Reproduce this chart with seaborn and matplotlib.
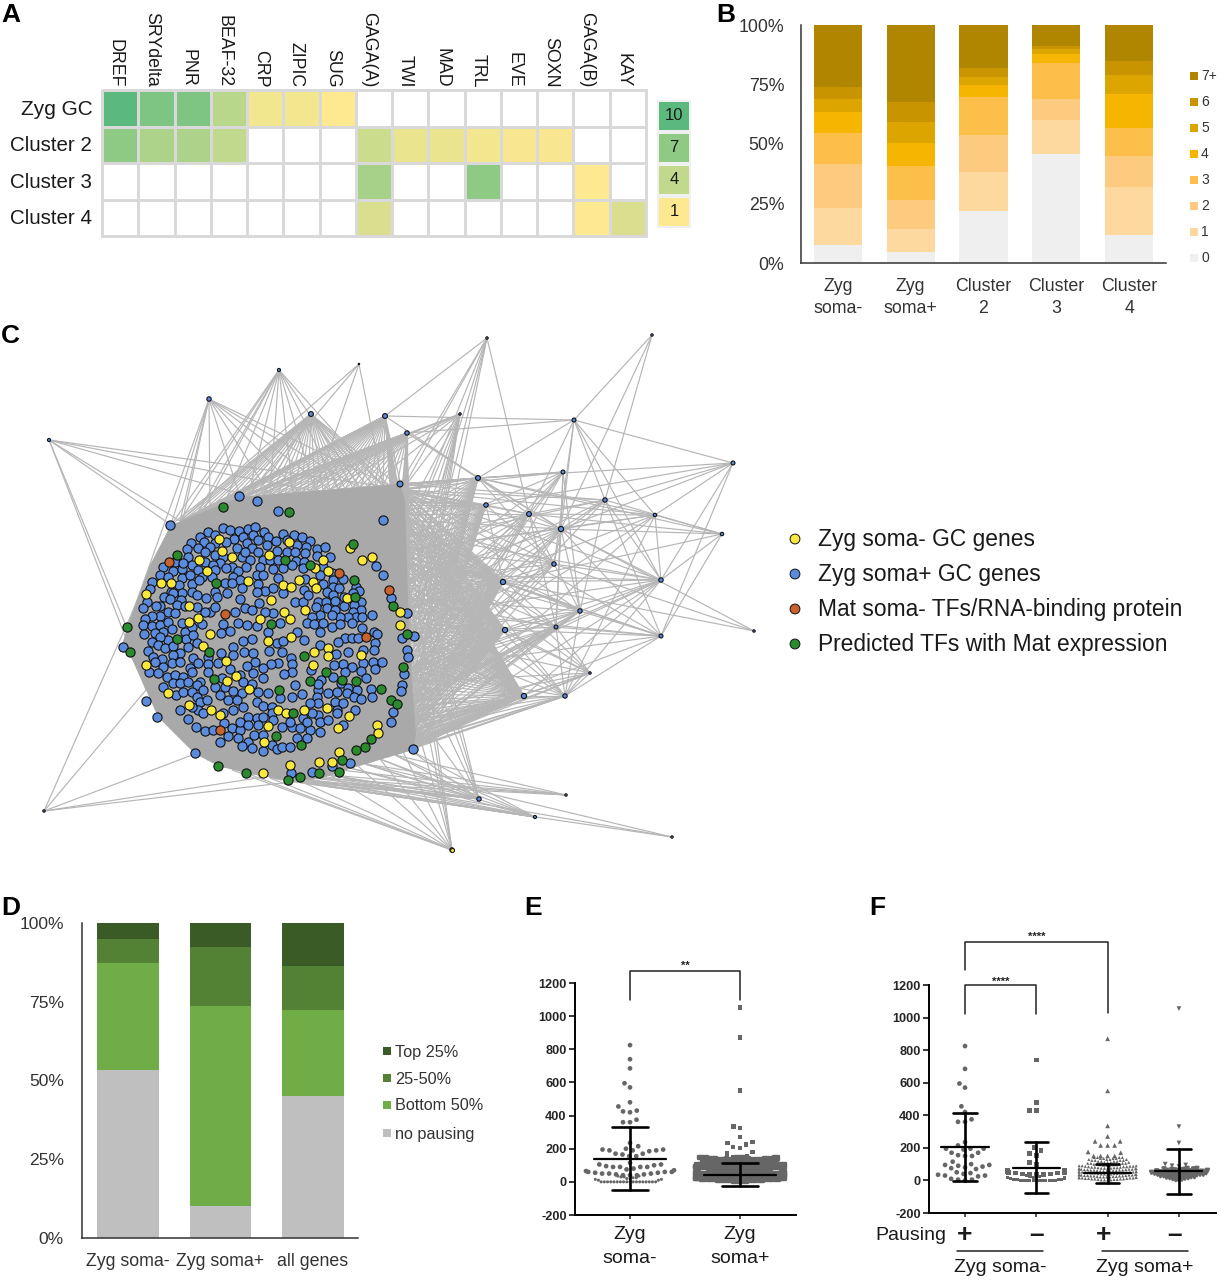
import warnings
import numpy as np
import pandas as pd
import seaborn as sns
import matplotlib.pyplot as plt
import matplotlib.patheffects as pe
from matplotlib.collections import LineCollection
from matplotlib.colors import LinearSegmentedColormap
from matplotlib.patches import Rectangle
from matplotlib.transforms import ScaledTranslation

warnings.filterwarnings("ignore")

W, H = 1221, 1280

# A
tf_names = ["DREF", "SRYdelta", "PNR", "BEAF-32", "CRP", "ZIPIC", "SUG", "GAGA(A)", "TWI", "MAD", "TRL", "EVE", "SOXN", "GAGA(B)", "KAY"]
a_rows = ["Zyg GC", "Cluster 2", "Cluster 3", "Cluster 4"]
a_zyg = [10, 8, 8, 4.5, 1.6, 1.6, 1, 0, 0, 0, 0, 0, 0, 0, 0]
a_c2 = [7, 5.2, 5.2, 4, 0, 0, 0, 3.4, 2, 2, 1.6, 1.3, 1.3, 0, 0]
a_c3 = [0, 0, 0, 0, 0, 0, 0, 5.5, 0, 0, 7, 0, 0, 1, 0]
a_c4 = [0, 0, 0, 0, 0, 0, 0, 2.8, 0, 0, 0, 0, 0, 1, 2.8]
a_key = [10, 7, 4, 1]

# B
b_cats = ["Zyg\nsoma-", "Zyg\nsoma+", "Cluster\n2", "Cluster\n3", "Cluster\n4"]
b_levels = ["0", "1", "2", "3", "4", "5", "6", "7+"]
b_colors = ["#efefef", "#fdd9a0", "#fdcb80", "#fcc04a", "#f6b500", "#dda500", "#c89500", "#b08500"]
b_tops = [
    [7.4, 4.5, 21.7, 45.8, 11.6],
    [23.1, 14.1, 38.1, 59.9, 31.9],
    [41.5, 26.6, 53.9, 68.9, 45.0],
    [54.5, 40.9, 69.9, 83.9, 56.9],
    [63.6, 50.6, 74.9, 88.0, 70.9],
    [68.9, 59.4, 78.0, 90.0, 79.0],
    [74.1, 67.5, 81.9, 91.0, 85.0],
    [100, 100, 100, 100, 100],
]

# D
d_cats = ["Zyg soma-", "Zyg soma+", "all genes"]
d_levels = ["no pausing", "Bottom 50%", "25-50%", "Top 25%"]
d_colors = ["#bfbfbf", "#70ad47", "#548235", "#3a5a26"]
d_tops = [
    [53.2, 10.2, 45.1],
    [87.2, 73.8, 72.4],
    [94.9, 92.5, 86.4],
    [100, 100, 100],
]

# E
e_minus_sparse = [825, 740, 685, 595, 570, 480, 455, 430, 425, 420, 375, 360, 360, 235, 215, 200, 195, 190, 190, 190,
                  195, 185, 170, 170, 165, 155, 155, 115, 105, 105, 100, 95, 90, 90, 90, 90, 80, 75, 70, 65, 60, 60,
                  60, 55, 55, 50, 50, 50, 45, 45, 40, 40, 40]
e_minus_vals = [0, 10, 15, 20, 25, 30, 35]
e_minus_counts = [18, 2, 2, 2, 2, 2, 2]
e_plus_sparse = [1050, 870, 550, 335, 325, 270, 240, 235, 225, 210, 205, 180, 170, 155, 150, 150]
e_plus_vals = [3, 6, 9, 12, 15, 18, 21, 24, 27, 30, 33, 36, 39, 42, 45, 48, 51, 54, 57, 60,
               72, 75, 78, 81, 84, 87, 90, 93, 96, 99, 102, 105, 111, 114, 117, 120, 123, 126, 129, 132, 135, 138, 141, 144, 147]
e_plus_counts = [5, 5, 5, 5, 5, 5, 5, 5, 5, 5, 5, 5, 5, 5, 5, 5, 5, 5, 5, 5,
                 5, 5, 5, 5, 5, 5, 5, 5, 5, 5, 5, 5, 4, 4, 4, 4, 4, 4, 4, 4, 4, 4, 4, 4, 4]
e_means = [140, 43]
e_sds = [190, 70]

# F
f_pos_minus = [825, 685, 595, 570, 455, 420, 375, 360, 360, 235, 215, 195, 195, 195, 190, 170, 170, 155, 150, 150, 115,
               100, 95, 95, 90, 85, 80, 75, 70, 50, 45, 40, 35, 30, 30, 25, 10, 5, 5, 0]
f_neg_sparse = [740, 480, 430, 430, 200, 185, 165, 155, 110, 100, 60, 60, 55, 55, 50, 50, 45, 45, 40, 40, 35, 35, 35]
f_neg_vals = [0, 4, 8, 12, 16, 20, 25, 30]
f_neg_counts = [12, 2, 2, 2, 2, 2, 2, 2]
f_pos_plus_sparse = [870, 550, 335, 270, 240, 240, 215, 215, 215, 175, 170, 150, 150, 150, 150]
f_pos_plus_vals = [3, 6, 9, 12, 15, 18, 21, 24, 27, 30, 33, 36, 39, 42, 45, 48, 51, 54, 57, 60, 63, 66, 69, 72, 75,
                   78, 81, 84, 87, 90, 93, 96, 99, 105, 111, 117, 123, 129, 135, 141]
f_pos_plus_counts = [4, 3, 4, 3, 4, 3, 4, 3, 4, 3, 4, 3, 4, 3, 4, 3, 4, 3, 4, 3, 4, 3, 4, 3, 4,
                     3, 3, 3, 3, 3, 3, 3, 3, 4, 4, 4, 4, 4, 4, 4]
f_neg_plus_sparse = [1055, 330, 230, 100, 95, 90, 85]
f_neg_plus_vals = [2, 5, 8, 11, 14, 17, 20, 23, 26, 29, 32, 35, 38, 41, 44, 47, 50, 53, 56, 59, 62, 65, 68, 71, 74]
f_neg_plus_counts = [1, 1, 1, 1, 1, 2, 2, 2, 2, 2, 2, 3, 3, 3, 3, 3, 3, 3, 3, 3, 2, 2, 2, 2, 2]
f_means = [205, 78, 43, 55]
f_sds = [210, 157, 58, 140]

# C, node positions (crop units, 3 per pixel, crop corner at 100,480)
blue_nodes = [
    (418,48),(470,64),(535,92),(850,120),(211,136),(370,145),(390,150),(418,152),(445,148),(466,142),(325,155),
    (345,165),(492,155),(550,162),(582,165),(607,170),(629,183),(300,170),(402,178),(428,170),(458,165),(475,180),(505,170),
    (527,183),(560,180),(272,190),(312,187),(378,185),(345,190),(295,205),(262,207),(330,200),(440,190),(530,212),(500,195),
    (455,205),(617,200),(590,195),(650,207),(676,200),(410,205),(315,215),(265,232),(345,225),(425,230),(368,230),(435,215),
    (475,215),(560,215),(585,215),(615,220),(650,228),(690,232),(225,245),(275,255),(315,245),(360,250),(338,255),(395,260),
    (490,240),(450,240),(510,240),(535,240),(587,243),(613,245),(480,262),(437,262),(415,272),(190,262),(220,272),(245,268),
    (250,250),(295,270),(345,270),(378,265),(518,268),(548,265),(575,255),(610,265),(668,262),(180,285),(205,292),(247,295),
    (270,285),(305,290),(400,290),(420,300),(335,290),(470,285),(490,285),(535,295),(615,297),(660,285),(695,280),(728,297),
    (698,300),(155,305),(275,312),(237,315),(297,300),(375,310),(475,312),(395,310),(670,312),(700,320),(768,320),(778,332),
    (150,327),(213,335),(245,338),(220,340),(275,335),(345,335),(380,340),(425,325),(495,333),(518,325),(470,335),(550,340),
    (612,330),(680,335),(718,325),(700,345),(760,340),(193,350),(243,360),(290,345),(318,355),(352,352),(420,357),(140,365),
    (210,358),(180,378),(168,378),(585,365),(608,365),(625,345),(655,365),(678,367),(705,362),(733,350),(782,365),(762,375),
    (731,378),(647,380),(680,385),(705,390),(478,370),(435,385),(457,390),(405,397),(128,385),(232,375),(255,378),(205,395),
    (180,408),(155,407),(135,417),(225,400),(290,380),(330,395),(315,395),(345,382),(520,400),(495,395),(783,390),(760,395),
    (768,410),(815,405),(785,412),(745,412),(720,410),(695,405),(660,405),(635,410),(620,428),(643,432),(670,430),(695,440),
    (720,433),(757,430),(785,445),(130,436),(155,437),(180,435),(205,425),(245,430),(215,448),(190,455),(132,463),(165,460),
    (255,455),(275,440),(305,432),(370,432),(415,430),(442,435),(470,438),(541,430),(590,455),(660,455),(613,480),(734,475),
    (715,485),(755,475),(775,475),(823,457),(832,463),(905,475),(942,468),(505,457),(362,458),(390,452),(428,482),(455,478),
    (530,490),(548,483),(258,477),(205,480),(180,470),(155,485),(280,465),(145,512),(175,495),(195,505),(220,498),(240,520),
    (265,500),(290,490),(220,525),(160,530),(400,500),(398,525),(362,520),(432,517),(460,518),(508,513),(547,515),(660,495),
    (708,522),(825,490),(822,510),(790,510),(745,517),(922,510),(923,532),(820,545),(846,545),(790,548),(730,552),(572,535),
    (575,553),(535,550),(514,553),(490,563),(465,547),(325,530),(323,552),(185,537),(165,545),(190,560),(215,550),(240,545),
    (280,535),(295,550),(270,565),(355,550),(390,568),(440,558),(460,580),(488,595),(420,585),(575,575),(552,582),(632,570),
    (702,555),(757,560),(782,572),(735,575),(824,567),(912,583),(662,600),(700,590),(798,595),(148,577),(175,580),(200,590),
    (225,585),(250,590),(275,575),(300,605),(325,575),(365,595),(190,620),(220,610),(240,610),(265,605),(290,615),(345,620),
    (375,622),(430,605),(455,612),(585,615),(653,630),(655,612),(722,610),(745,625),(770,630),(812,628),(815,650),(905,615),
    (903,632),(228,645),(250,635),(275,635),(310,630),(360,645),(398,632),(425,640),(475,635),(505,640),(540,655),(575,650),
    (606,643),(650,650),(685,640),(710,635),(740,640),(762,652),(783,658),(138,663),(240,690),(290,650),(300,665),(320,660),
    (385,660),(410,660),(430,680),(470,665),(490,678),(515,680),(655,670),(630,670),(705,665),(728,670),(765,690),(710,690),
    (880,697),(873,725),(172,711),(265,718),(295,690),(310,700),(275,680),(400,690),(370,700),(445,710),(470,715),(490,710),
    (515,700),(610,715),(655,705),(635,700),(660,725),(685,720),(730,735),(710,700),(288,740),(315,752),(340,750),(373,728),
    (395,745),(420,750),(420,725),(445,735),(475,735),(520,720),(545,740),(575,740),(600,745),(630,750),(620,725),(660,755),
    (360,785),(385,768),(415,775),(445,785),(462,765),(488,765),(455,805),(425,798),(490,813),(515,795),(530,808),(547,800),
    (570,802),(620,775),(590,775),(570,725),(285,820),(750,850),(637,877),(695,858),(68,500),(940,807),(573,878),(828,257),
    (850,285),(873,353),(921,398),
]
yellow_nodes = [
    (358,177),(365,212),(395,231),(298,240),(320,272),(445,304),(508,225),(566,186),(670,241),(645,263),(683,273),(750,203),
    (786,239),(816,231),(183,309),(213,310),(138,343),(268,377),(295,413),(268,425),(512,361),(550,315),(572,321),(597,300),
    (640,305),(648,325),(742,355),(615,390),(552,395),(571,417),(481,416),(331,463),(572,470),(505,482),(309,497),(377,544),
    (409,588),(381,602),(446,628),(138,555),(204,639),(268,676),(333,691),(361,706),(533,690),(558,699),(611,690),(680,684),
    (746,708),(783,525),(642,515),(684,503),(685,528),(640,555),(900,397),(900,435),(832,735),(835,759),(715,743),(505,737),
    (493,787),(717,817),(657,846),(697,845),(571,855),(489,878),
]
green_nodes = [
    (370,80),(566,97),(232,226),(759,191),(555,241),(631,254),(347,309),(763,301),(765,352),(880,378),(514,433),(921,463),
    (82,440),(91,517),(232,478),(327,515),(613,527),(910,560),(679,577),(342,597),(629,604),(727,600),(768,604),(536,630),
    (842,627),(873,660),(890,671),(579,699),(528,767),(602,794),(813,776),(794,802),(768,810),(727,839),(354,858),(438,878),
    (563,900),(601,892),(656,878),(717,876),
]
red_nodes = [(208,246),(717,278),(868,330),(375,401),(797,472),(361,749)]

# outer nodes in picture pixels
outer_x = [487, 652, 385, 460, 574, 407, 733, 478, 400, 563, 605, 486, 655, 529, 561, 722, 554, 661, 503, 580, 556, 505, 661, 754, 590, 524, 565, 49, 209, 279, 311, 359, 44, 479, 535, 566, 672, 452]
outer_y = [338, 335, 416, 414, 420, 433, 463, 478, 484, 472, 500, 505, 515, 514, 529, 534, 564, 580, 582, 611, 627, 630, 636, 631, 673, 696, 696, 440, 399, 370, 414, 364, 811, 799, 817, 795, 837, 850]
outer_size = [3, 3, 12, 3, 8, 10, 8, 12, 18, 8, 10, 10, 6, 12, 14, 6, 10, 10, 14, 10, 8, 14, 8, 3, 3, 14, 10, 5, 10, 5, 12, 1, 3, 10, 5, 3, 3, 10]

outer_edges = [
    (0,8),(0,13),(0,2),(1,14),(1,10),(1,4),(2,4),(2,7),(4,7),(4,5),(4,6),(4,10),(4,13),(4,14),(4,16),(4,17),(4,12),
    (5,7),(5,14),(6,7),(6,10),(6,12),(6,17),(6,22),(6,14),(6,11),(7,13),(7,14),(7,16),(7,12),(7,9),(7,15),
    (9,13),(9,14),(9,19),(9,20),(10,13),(10,14),(10,17),(10,19),(10,22),(10,15),(12,13),(12,14),(12,15),(12,17),(12,26),
    (13,14),(13,16),(13,20),(13,15),(14,15),(14,16),(14,17),(14,19),(14,20),(14,22),(16,23),(16,17),(15,17),(15,22),(15,18),
    (17,18),(17,19),(17,20),(17,26),(17,25),(18,19),(18,22),(19,20),(19,22),(19,26),(19,21),(20,22),(20,26),(20,24),
    (21,22),(21,24),(24,26),(22,26),(25,26),(16,19),(11,16),(11,18),(11,13),(18,23),(14,23),(8,7),(8,9),(8,10),
]

# outline of the solid grey mass, then fan anchors per side (pixels)
blob_x = [400, 240, 171, 150, 127, 122, 130, 146, 158, 194, 218, 246, 290, 320, 345, 413, 416, 412, 408, 405]
blob_y = [484, 497, 525, 565, 628, 645, 655, 690, 717, 753, 766, 773, 781, 779, 770, 750, 735, 680, 600, 500]
right_x = [402, 402, 402, 402, 403, 403, 403, 403, 404, 404, 404, 404, 405, 405, 405, 405, 406, 406, 406, 406, 407, 407,
           407, 407, 408, 408, 408, 408, 409, 409, 409, 409, 410, 410, 410, 410, 411, 411, 411, 411, 412, 412, 412, 412]
right_y = [490, 496, 502, 508, 514, 520, 526, 532, 538, 544, 550, 556, 562, 568, 574, 580, 586, 592, 598, 604, 610, 616,
           622, 628, 634, 640, 646, 652, 658, 664, 670, 676, 682, 688, 694, 700, 706, 712, 718, 724, 730, 736, 742, 748]
top_x = [180, 188, 195, 203, 210, 218, 225, 233, 240, 248, 255, 263, 270, 278, 285, 293, 300, 308, 315, 323, 330, 338, 345, 353, 360, 368, 375, 383, 390, 397]
top_y = [521, 517, 514, 511, 508, 505, 502, 499, 497, 496, 496, 495, 495, 494, 494, 493, 493, 492, 491, 490, 490, 489, 489, 488, 488, 487, 487, 486, 486, 485]
bottom_x = [195, 207, 218, 232, 246, 258, 270, 280, 290, 300, 310, 320, 330, 340, 350, 358, 365, 373, 380, 388, 395, 403, 410]
bottom_y = [754, 760, 766, 770, 773, 776, 778, 780, 781, 781, 780, 778, 775, 771, 768, 766, 764, 761, 759, 757, 755, 752, 750]
left_x = [171, 150, 127, 122, 146, 158]
left_y = [525, 565, 628, 645, 690, 717]

# hub, side, take every n-th anchor
fan_links = [
    (21, "right", 1), (18, "right", 1), (25, "right", 1), (21, "bottom", 2), (25, "bottom", 1), (18, "top", 4),
    (7, "right", 2), (11, "right", 2), (13, "right", 4), (14, "right", 5), (16, "right", 5), (19, "right", 6), (20, "right", 6),
    (26, "right", 6), (24, "right", 8), (9, "right", 8), (10, "right", 9), (12, "right", 10), (17, "right", 7), (22, "right", 10),
    (3, "right", 5), (0, "right", 9), (7, "top", 4), (11, "top", 5),
    (2, "top", 1), (5, "top", 1), (30, "top", 1), (29, "top", 3), (28, "top", 4), (31, "top", 9), (2, "right", 3), (5, "right", 2),
    (8, "right", 2), (3, "top", 5), (28, "left", 2), (30, "left", 2), (29, "left", 3),
    (27, "left", 2), (27, "top", 9), (32, "left", 4), (32, "bottom", 9),
    (33, "bottom", 2), (33, "right", 9), (34, "bottom", 2), (35, "bottom", 4), (36, "bottom", 8), (37, "bottom", 3), (37, "right", 12),
    (25, "top", 9), (19, "bottom", 6), (20, "bottom", 5), (26, "bottom", 4), (24, "bottom", 6),
]

# legend of C
c_legend = ["Zyg soma- GC genes", "Zyg soma+ GC genes", "Mat soma- TFs/RNA-binding protein", "Predicted TFs with Mat expression"]
c_colors = ["#fbe83c", "#5b8bdc", "#c9622c", "#2a8a2e"]

sns.set_style("white")
plt.rcParams["font.family"] = ["Liberation Sans", "DejaVu Sans"]
plt.rcParams["axes.unicode_minus"] = False
TXT = "#1a1a1a"
GREY = "#666666"

fig = plt.figure(figsize=(W / 100, H / 100), dpi=100)


def px_axes(x0, y0, x1, y1, **kw):
    return fig.add_axes([x0 / W, 1 - y1 / H, (x1 - x0) / W, (y1 - y0) / H], **kw)


def stacked(ax, cats, tops, colors, width):
    for top, col in reversed(list(zip(tops, colors))):
        sns.barplot(x=cats, y=top, order=cats, color=col, saturation=1, width=width, linewidth=0, ax=ax)


def shift(lab, dx, dy):
    lab.set_transform(lab.get_transform() + ScaledTranslation(dx / 100, -dy / 100, fig.dpi_scale_trans))


# full figure layer for the network and free text
bg = px_axes(0, 0, W, H)
bg.set_xlim(0, W)
bg.set_ylim(H, 0)
bg.axis("off")

segs = [[(outer_x[a], outer_y[a]), (outer_x[b], outer_y[b])] for a, b in outer_edges]
sides = {"right": (right_x, right_y), "top": (top_x, top_y), "bottom": (bottom_x, bottom_y), "left": (left_x, left_y)}
for hub, side, step in fan_links:
    sx, sy = sides[side]
    for tx, ty in zip(sx[::step], sy[::step]):
        segs.append([(outer_x[hub], outer_y[hub]), (tx, ty)])
bg.add_collection(LineCollection(segs, colors="#b6b6b6", linewidths=0.85, zorder=1))
bg.fill(blob_x, blob_y, color="#a9a9a9", lw=0, zorder=1)

for nodes, col in [(blue_nodes, c_colors[1]), (yellow_nodes, c_colors[0]), (green_nodes, c_colors[3]), (red_nodes, c_colors[2])]:
    arr = np.array(nodes)
    sns.scatterplot(x=100 + arr[:, 0] / 3, y=480 + arr[:, 1] / 3, color=col, s=44, edgecolor="#101010", linewidth=0.8,
                    legend=False, ax=bg, zorder=3)
sns.scatterplot(x=outer_x, y=outer_y, color=c_colors[1], s=outer_size, edgecolor="#101010", linewidth=0.8,
                legend=False, ax=bg, zorder=3)
sns.scatterplot(x=[452], y=[850], color=c_colors[0], s=8, edgecolor="#101010", linewidth=0.7, legend=False, ax=bg, zorder=4)

leg_y = [539, 574, 609, 644]
sns.scatterplot(x=[795] * 4, y=leg_y, hue=c_legend, palette=c_colors, s=50, edgecolor="#101010", linewidth=0.7,
                legend=False, ax=bg, zorder=3)
for name, y in zip(c_legend, leg_y):
    bg.text(818, y + 0.5, name, fontsize=16.4, va="center", ha="left", color=TXT)
bg.set_xlim(0, W)
bg.set_ylim(H, 0)

for name, x, y in [("A", 1, 15), ("B", 716, 15), ("C", 1, 336), ("D", 1, 908), ("E", 524, 908), ("F", 869, 908)]:
    bg.text(x, y, name, fontsize=19, fontweight="bold", va="center", ha="left", color="black")

# A
ax = px_axes(102, 90, 646, 236)
a_table = pd.DataFrame([a_zyg, a_c2, a_c3, a_c4], index=a_rows, columns=tf_names)
tf_cmap = LinearSegmentedColormap.from_list("tf", [(0, "#fee990"), (1 / 3, "#c0d98c"), (2 / 3, "#8fca84"), (1, "#5cb97d")])
tf_cmap.set_under("white")
sns.heatmap(a_table, cmap=tf_cmap, vmin=1, vmax=10, cbar=False, linewidths=1.9, linecolor="#d9d9d9", clip_on=False, ax=ax)
ax.tick_params(length=0, top=True, labeltop=True, bottom=False, labelbottom=False)
ax.tick_params(axis="x", pad=2)
ax.tick_params(axis="y", pad=7)
ax.set_xticklabels(tf_names, rotation=270, ha="center", va="bottom", fontsize=12.8, color=TXT)
ax.set_yticklabels(a_rows, rotation=0, fontsize=14.8, color=TXT)
ax.get_yticklabels()[0].set_fontsize(15)
for lab in ax.get_xticklabels():
    shift(lab, -5, 0)
for lab in ax.get_yticklabels():
    shift(lab, 0, 1)
ax.set_xlabel("")
ax.set_ylabel("")

ax = px_axes(657, 100, 691, 228)
sns.heatmap(pd.DataFrame({"n": a_key}), cmap=tf_cmap, vmin=1, vmax=10, cbar=False, linewidths=1.5, linecolor="#f0f0f0",
            annot=True, fmt="d", annot_kws={"fontsize": 12, "color": TXT}, xticklabels=False, yticklabels=False, ax=ax)

# B
ax = px_axes(801, 25, 1166, 263)
stacked(ax, b_cats, b_tops, b_colors, 0.66)
ax.set_xlim(-0.507, 4.507)
ax.set_ylim(0, 100)
ax.set_yticks([0, 25, 50, 75, 100], ["0%", "25%", "50%", "75%", "100%"])
ax.tick_params(axis="both", length=0, labelsize=12.8, labelcolor="#333333")
ax.tick_params(axis="y", pad=12)
ax.tick_params(axis="x", pad=11)
for lab in ax.get_xticklabels():
    lab.set_linespacing(1.4)
ax.set_xlabel("")
ax.set_ylabel("")
sns.despine(ax=ax)
for s in ["left", "bottom"]:
    ax.spines[s].set_linewidth(1.1)
    ax.spines[s].set_color("#333333")
for i, (lab, col) in enumerate(zip(b_levels, b_colors)):
    y = 258 - i * 26
    bg.add_patch(Rectangle((1190, y - 4), 8, 8, color=col, lw=0))
    bg.text(1201, y, lab, fontsize=10, va="center", ha="left", color="#333333")

# D
ax = px_axes(82, 923, 358, 1238)
stacked(ax, d_cats, d_tops, d_colors, 0.667)
ax.set_xlim(-0.498, 2.49)
ax.set_ylim(0, 100)
ax.set_yticks([0, 25, 50, 75, 100], ["0%", "25%", "50%", "75%", "100%"])
ax.tick_params(axis="both", length=0, labelsize=12.6, labelcolor="#333333")
ax.tick_params(axis="y", pad=13)
ax.tick_params(axis="x", labelsize=12.8, pad=11)
ax.set_xlabel("")
ax.set_ylabel("")
sns.despine(ax=ax)
for s in ["left", "bottom"]:
    ax.spines[s].set_linewidth(1.1)
    ax.spines[s].set_color("#333333")
for lab, col, y in zip(d_levels, d_colors, [1133, 1105, 1078, 1051]):
    bg.add_patch(Rectangle((383, y - 4), 8, 8, color=col, lw=0))
    bg.text(395, y + 1, lab, fontsize=11.7, va="center", ha="left", color="#333333")


def swarm(ax, name, order, vals, marker, size=3.4, gap=1.4, stroke=0):
    # gap widens the spacing only, the edge itself stays invisible
    sns.swarmplot(x=[name] * len(vals), y=vals, order=order, color=GREY, size=size, marker=marker, linewidth=gap,
                  edgecolor="none", warn_thresh=1, ax=ax)
    if stroke:
        ax.collections[-1].set_path_effects([pe.withStroke(linewidth=stroke, foreground=GREY)])


def dense(ax, name, order, vals, counts, marker):
    swarm(ax, name, order, list(np.repeat(vals, counts)), marker, size=2.2, gap=0, stroke=1.7)


def err_bars(ax, means, sds):
    for i, (m, s) in enumerate(zip(means, sds)):
        ax.plot([i - 0.33, i + 0.33], [m, m], color="black", lw=1.6, zorder=5)
        ax.plot([i - 0.165, i + 0.165], [m + s, m + s], color="black", lw=1.9, zorder=5)
        ax.plot([i - 0.165, i + 0.165], [m - s, m - s], color="black", lw=1.9, zorder=5)
        ax.plot([i, i], [m - s, m + s], color="black", lw=1.9, zorder=5)


def prism_axes(ax):
    ax.set_ylim(-200, 1200)
    ax.set_yticks(range(-200, 1201, 200))
    ax.tick_params(axis="y", length=4, width=1.3, labelsize=9.2, pad=2, left=True)
    ax.tick_params(axis="x", length=3, width=1.1, bottom=True)
    for lab in ax.get_yticklabels():
        lab.set_fontweight("bold")
    ax.set_xlabel("")
    ax.set_ylabel("")
    sns.despine(ax=ax)
    for s in ["left", "bottom"]:
        ax.spines[s].set_linewidth(1.4)
        ax.spines[s].set_color("black")
    ax.patch.set_alpha(0)


def bracket(ax, x0, x1, low0, low1, top, stars, star_y):
    ax.plot([x0, x0, x1, x1], [low0, top, top, low1], color="#222222", lw=1.1, clip_on=False)
    ax.text((x0 + x1) / 2, star_y, stars, ha="center", va="center", fontsize=8, fontweight="bold", color="#222222", clip_on=False)


# E
e_order = ["Zyg\nsoma-", "Zyg\nsoma+"]
ax = px_axes(575, 983, 796, 1215)
swarm(ax, e_order[0], e_order, e_minus_sparse, "o")
dense(ax, e_order[0], e_order, e_minus_vals, e_minus_counts, "o")
swarm(ax, e_order[1], e_order, e_plus_sparse, "s")
dense(ax, e_order[1], e_order, e_plus_vals, e_plus_counts, "s")
err_bars(ax, e_means, e_sds)
ax.set_xlim(-0.5, 1.509)
prism_axes(ax)
ax.tick_params(axis="x", labelsize=14, labelcolor=TXT, pad=5)
for lab in ax.get_xticklabels():
    lab.set_linespacing(1.5)
bracket(ax, 0, 1, 1097, 1097, 1272, "**", 1302)

# F
f_order = ["+", "\u2013", "+ ", "\u2013 "]
ax = px_axes(929, 985, 1216, 1213)
swarm(ax, f_order[0], f_order, f_pos_minus, "o")
swarm(ax, f_order[1], f_order, f_neg_sparse, "s")
dense(ax, f_order[1], f_order, f_neg_vals, f_neg_counts, "s")
swarm(ax, f_order[2], f_order, f_pos_plus_sparse, "^")
dense(ax, f_order[2], f_order, f_pos_plus_vals, f_pos_plus_counts, "^")
swarm(ax, f_order[3], f_order, f_neg_plus_sparse, "v")
dense(ax, f_order[3], f_order, f_neg_plus_vals, f_neg_plus_counts, "v")
err_bars(ax, f_means, f_sds)
ax.set_xlim(-0.505, 3.52)
prism_axes(ax)
ax.tick_params(axis="x", labelsize=19, labelcolor=TXT, pad=4)
for lab in ax.get_xticklabels():
    lab.set_fontweight("bold")
bracket(ax, 0, 1, 1020, 1020, 1200, "****", 1222)
bracket(ax, 0, 2, 1292, 1028, 1464, "****", 1495)

bg.text(875, 1236, "Pausing", fontsize=14, va="center", ha="left", color=TXT)
bg.plot([957, 1043], [1251, 1251], color="#222222", lw=1.1)
bg.plot([1102, 1188], [1251, 1251], color="#222222", lw=1.1)
bg.text(1000, 1268, "Zyg soma-", fontsize=14, va="center", ha="center", color=TXT)
bg.text(1145, 1268, "Zyg soma+", fontsize=14, va="center", ha="center", color=TXT)

fig.savefig("out.png", dpi=100)
plt.close(fig)
